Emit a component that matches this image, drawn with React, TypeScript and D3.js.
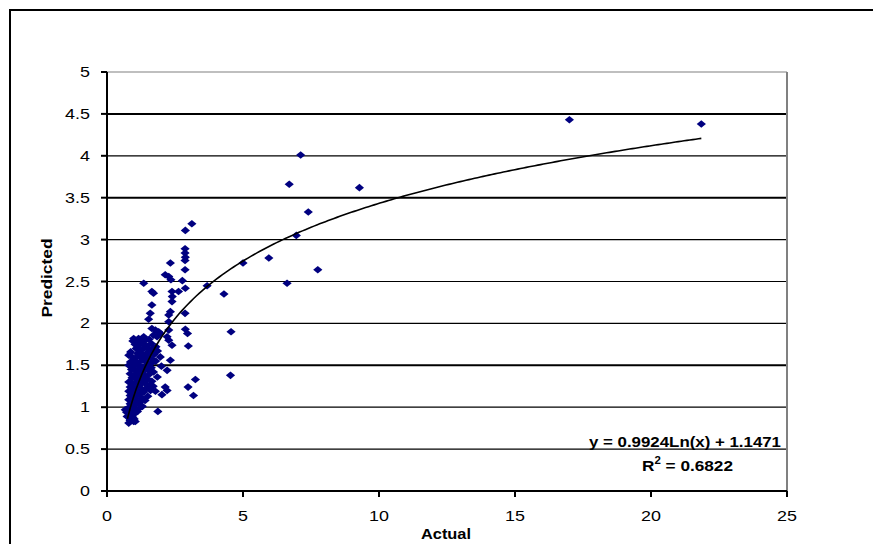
import React from 'react';
import * as d3 from 'd3';

// scatter values: [actual, predicted]
const outliers: [number, number][] = [
  [17.0, 4.43], [21.85, 4.38], [7.12, 4.01], [6.7, 3.66], [9.28, 3.62], [7.4, 3.33],
  [6.96, 3.05], [5.95, 2.78], [7.75, 2.64], [6.62, 2.48], [5.0, 2.72], [3.68, 2.45],
  [4.3, 2.35], [4.56, 1.9], [4.54, 1.38], [3.12, 3.19], [2.88, 3.11], [3.25, 1.33],
  [3.18, 1.14], [2.98, 1.24],
];

const midPoints: [number, number][] = [
  [2.87, 2.89], [2.87, 2.84], [2.88, 2.79], [2.87, 2.75], [2.87, 2.64], [2.77, 2.51],
  [2.88, 2.42], [2.87, 2.12], [2.88, 1.93], [2.96, 1.88], [2.99, 1.73],
  [2.33, 2.72], [2.14, 2.58], [2.27, 2.56], [2.35, 2.52], [2.63, 2.38], [2.39, 2.38],
  [2.4, 2.32], [2.39, 2.26], [2.33, 2.14], [2.27, 2.1], [2.27, 2.02], [2.27, 1.92],
  [2.21, 1.84], [2.27, 1.8], [2.39, 1.74], [2.33, 1.56], [2.21, 1.44], [2.14, 1.24],
  [2.21, 1.2], [2.02, 1.15], [1.78, 1.19], [1.87, 0.95],
  [1.35, 2.48], [1.65, 2.38], [1.71, 2.36], [1.65, 2.22], [1.59, 2.12], [1.53, 2.05],
  [1.65, 1.94], [1.78, 1.92], [1.9, 1.9], [1.71, 1.86], [1.84, 1.84], [1.96, 1.88],
  [1.96, 1.6],
];

const clusterPoints: [number, number][] = [
  [0.98, 1.82], [1.16, 1.82], [1.35, 1.84], [1.1, 1.78], [1.29, 1.8], [1.41, 1.8],
  [0.8, 1.62], [0.86, 1.54], [0.8, 1.5], [0.67, 0.97], [0.74, 0.89], [0.8, 0.81],
  [1.04, 0.83], [0.86, 0.85], [0.98, 0.83],
  [0.95, 1.79], [1.55, 1.81], [1.03, 1.75], [1.18, 1.74], [1.32, 1.76], [1.47, 1.73],
  [1.63, 1.76], [1.8, 1.72], [1.07, 1.7], [1.22, 1.68], [1.37, 1.71], [1.52, 1.69],
  [1.69, 1.7], [1.86, 1.67], [0.87, 1.66], [1.12, 1.64], [1.26, 1.65], [1.41, 1.63],
  [1.56, 1.66], [1.73, 1.63], [0.92, 1.6], [1.06, 1.59], [1.21, 1.61], [1.36, 1.58],
  [1.51, 1.6], [1.66, 1.57], [0.96, 1.55], [1.11, 1.53], [1.28, 1.56], [1.43, 1.54],
  [1.61, 1.52], [1.79, 1.55], [1.0, 1.49], [1.15, 1.51], [1.3, 1.48], [1.46, 1.5],
  [1.63, 1.47], [2.0, 1.49], [0.9, 1.45], [1.05, 1.44], [1.2, 1.46], [1.35, 1.43],
  [1.5, 1.45], [1.71, 1.42], [0.85, 1.4], [1.0, 1.38], [1.12, 1.41], [1.25, 1.39],
  [1.41, 1.37], [1.58, 1.4], [1.85, 1.36], [0.92, 1.35], [1.08, 1.33], [1.2, 1.36],
  [1.32, 1.32], [1.48, 1.34], [1.65, 1.31], [0.8, 1.3], [0.95, 1.28], [1.1, 1.3],
  [1.22, 1.27], [1.38, 1.29], [1.55, 1.26], [0.85, 1.24], [1.0, 1.22], [1.15, 1.25],
  [1.3, 1.21], [1.45, 1.23], [1.7, 1.25], [0.8, 1.19], [0.92, 1.17], [1.05, 1.2],
  [1.2, 1.16], [1.35, 1.18], [1.6, 1.2], [0.85, 1.14], [0.98, 1.12], [1.12, 1.15],
  [1.28, 1.11], [1.5, 1.13], [0.8, 1.09], [0.92, 1.07], [1.05, 1.1], [1.2, 1.06],
  [1.4, 1.08], [0.85, 1.04], [1.0, 1.02], [1.15, 1.05], [1.3, 1.01], [0.78, 0.99],
  [0.9, 0.98], [1.05, 0.96], [1.2, 0.99], [0.72, 0.94], [0.85, 0.93], [1.0, 0.92],
  [1.12, 0.95], [0.8, 0.89], [0.95, 0.88], [0.85, 0.84], [1.0, 0.86],
];

const points = [...outliers, ...midPoints, ...clusterPoints];

const xTicks = [0, 5, 10, 15, 20, 25];
const yTicks = [0, 0.5, 1, 1.5, 2, 2.5, 3, 3.5, 4, 4.5, 5];
const thickGrid = [1.5, 3.5, 4.5];

const trendA = 0.9924;
const trendB = 1.1471;
const rSquared = 0.6822;
const trendRange: [number, number] = [0.75, 21.85];

// excel-ish diamond, a bit wider than tall
const diamond = 'M0,-3.8L4.6,0L0,3.8L-4.6,0Z';

export default function App() {
  const width = 873;
  const height = 544;
  const left = 107;
  const right = 787;
  const top = 72;
  const bottom = 491;

  const x = d3.scaleLinear().domain([0, 25]).range([left, right]);
  const y = d3.scaleLinear().domain([0, 5]).range([bottom, top]);

  const trendData = d3.range(0, 201).map(i => {
    const xv = trendRange[0] + (trendRange[1] - trendRange[0]) * (i / 200);
    return [xv, trendA * Math.log(xv) + trendB] as [number, number];
  });
  const line = d3.line<[number, number]>().x(d => x(d[0])).y(d => y(d[1]));

  const font = '"Liberation Sans", Arial, sans-serif';

  return (
    <svg
      width={width}
      height={height}
      style={{ position: 'absolute', left: 0, top: 0, background: '#fff' }}
      fontFamily={font}
    >
      <rect x={10} y={10} width={900} height={600} fill="#fff" stroke="#000" strokeWidth={2} />

      {yTicks.filter(t => t > 0).map(t => (
        <line
          key={t}
          x1={left} x2={right} y1={y(t)} y2={y(t)}
          stroke={t === 5 ? '#808080' : '#000'}
          strokeWidth={thickGrid.includes(t) ? 2 : 1.2}
        />
      ))}
      <line x1={right} x2={right} y1={top} y2={bottom} stroke="#808080" strokeWidth={2} />

      {points.map((p, i) => (
        <path
          key={i}
          d={diamond}
          fill="#000080"
          transform={`translate(${x(p[0])},${y(p[1])})`}
        />
      ))}

      <path d={line(trendData) || ''} fill="none" stroke="#000" strokeWidth={1.6} />

      <line x1={left} x2={left} y1={top} y2={bottom} stroke="#000" strokeWidth={2} />
      <line x1={left} x2={right} y1={bottom} y2={bottom} stroke="#000" strokeWidth={2} />

      {yTicks.map(t => (
        <g key={t}>
          <line x1={left - 6} x2={left} y1={y(t)} y2={y(t)} stroke="#000" strokeWidth={2} />
          <text
            transform={`translate(${left - 17},${y(t) + 5}) scale(1.28,1)`}
            textAnchor="end" fontSize={14} fill="#000"
          >{t}</text>
        </g>
      ))}
      {xTicks.map(t => (
        <g key={t}>
          <line x1={x(t)} x2={x(t)} y1={bottom} y2={bottom + 6} stroke="#000" strokeWidth={2} />
          <text
            transform={`translate(${x(t)},${bottom + 30}) scale(1.28,1)`}
            textAnchor="middle" fontSize={14} fill="#000"
          >{t}</text>
        </g>
      ))}

      <text x={446} y={539} textAnchor="middle" fontSize={14} fontWeight="bold"
        textLength={50} lengthAdjust="spacingAndGlyphs">Actual</text>
      <text
        transform={`translate(52,278) rotate(-90)`}
        textAnchor="middle" fontSize={14} fontWeight="bold"
        textLength={79} lengthAdjust="spacingAndGlyphs"
      >Predicted</text>

      <text x={589} y={447} fontSize={15} fontWeight="bold"
        textLength={192} lengthAdjust="spacingAndGlyphs">
        {`y = ${trendA}Ln(x) + ${trendB}`}
      </text>
      <text x={642} y={471} fontSize={15} fontWeight="bold"
        textLength={91} lengthAdjust="spacingAndGlyphs">
        R<tspan dy={-7} fontSize={10}>2</tspan><tspan dy={7}>{` = ${rSquared}`}</tspan>
      </text>
    </svg>
  );
}
